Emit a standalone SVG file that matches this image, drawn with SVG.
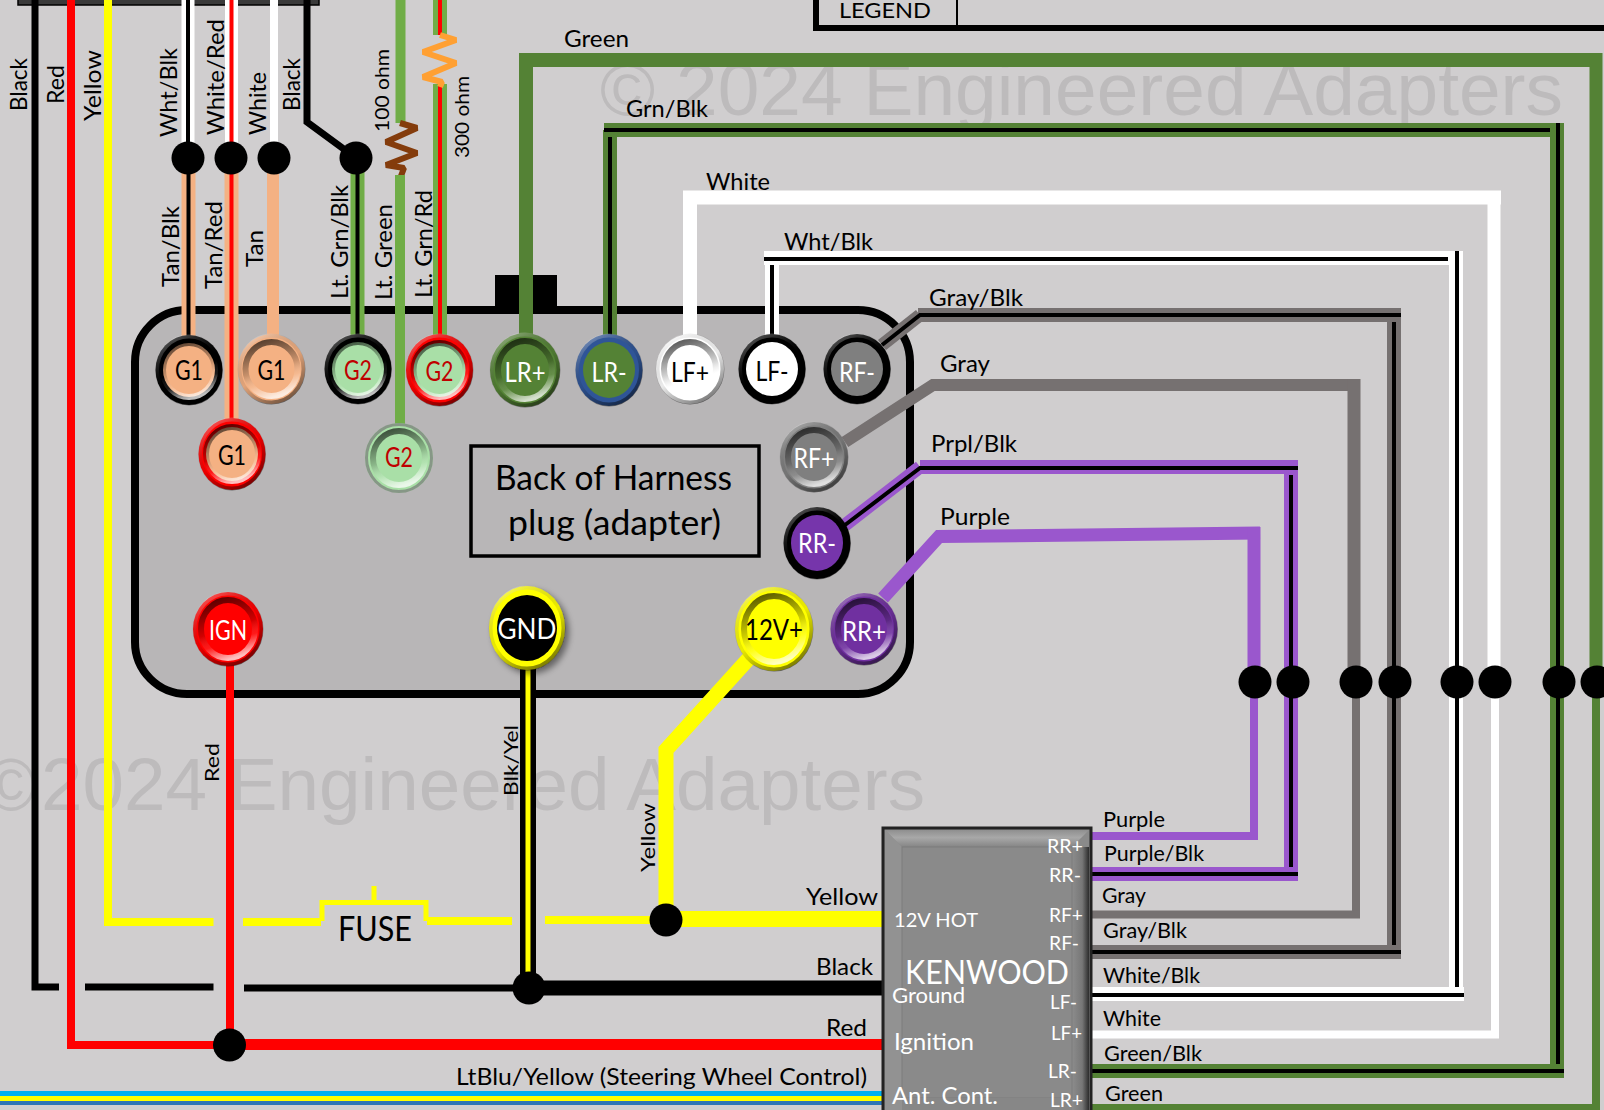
<svg xmlns="http://www.w3.org/2000/svg" width="1604" height="1110" viewBox="0 0 1604 1110">
<style>
text{font-family:"Lato","Carlito","Noto Sans",sans-serif;fill:#000}
.l{font-size:21px}
.h{font-size:23px}
.v{font-size:23px}
.vw{font-size:20px}
.ws{font-size:20px;fill:#fff}
.wm{font-family:"Liberation Sans",Arial,sans-serif;font-size:74px;fill:#bdbbbc}
.w{fill:none;stroke-linejoin:miter;stroke-linecap:butt}
.z{fill:none;stroke-linejoin:bevel;stroke-width:6}
.k{stroke:#000;stroke-width:4}
.gn{stroke:#548235}.wh{stroke:#fff}.gy{stroke:#767171}.pu{stroke:#9a57cd}.tan{stroke:#f4b183}.lg{stroke:#70ad47}.rd{stroke:#f00}.yl{stroke:#ff0}.bk{stroke:#000}
.dot{fill:#000}
.c{font-size:26px;text-anchor:middle}
.cw{fill:#fff}.cr{fill:#c00000}
.edge{fill:none;stroke:url(#edge);stroke-width:4}
.bev{fill:none;stroke:url(#bev);stroke-width:6}
</style>
<defs>
<linearGradient id="edge" x1="0.2" y1="0" x2="0.8" y2="1"><stop offset="0" stop-color="#fff" stop-opacity=".35"/><stop offset=".5" stop-color="#000" stop-opacity=".08"/><stop offset="1" stop-color="#000" stop-opacity=".55"/></linearGradient>
<linearGradient id="bev" x1="0.3" y1="0" x2="0.6" y2="1"><stop offset="0" stop-color="#000" stop-opacity=".62"/><stop offset=".5" stop-color="#000" stop-opacity=".18"/><stop offset=".72" stop-color="#fff" stop-opacity=".1"/><stop offset="1" stop-color="#fff" stop-opacity=".75"/></linearGradient>
<linearGradient id="kwR" x1="0" y1="0" x2="1" y2="0"><stop offset="0" stop-color="#8c8c8c"/><stop offset=".6" stop-color="#777"/><stop offset="1" stop-color="#2c2c2c"/></linearGradient>
<linearGradient id="kwT" x1="0" y1="0" x2="0" y2="1"><stop offset="0" stop-color="#8f8f8f"/><stop offset=".45" stop-color="#a8a8a8"/><stop offset="1" stop-color="#858585"/></linearGradient>
<filter id="sh" x="-30%" y="-30%" width="170%" height="170%"><feDropShadow dx="4" dy="4" stdDeviation="3" flood-color="#000" flood-opacity=".45"/></filter>
</defs>
<rect width="1604" height="1110" fill="#d0cecf"/>
<g id="watermarks">
<text class="wm" x="600" y="115" textLength="963" lengthAdjust="spacingAndGlyphs">© 2024 Engineered Adapters</text>
<text class="wm" x="-14" y="810" textLength="50" lengthAdjust="spacingAndGlyphs">©</text>
<text class="wm" x="41" y="810" textLength="884" lengthAdjust="spacingAndGlyphs">2024 Engineered Adapters</text>
</g>
<g id="legend">
<path d="M816 0V28H1604" fill="none" stroke="#000" stroke-width="6"/>
<path d="M957 0V26" fill="none" stroke="#000" stroke-width="2"/>
<text x="839" y="18" font-size="22" textLength="92" lengthAdjust="spacingAndGlyphs">LEGEND</text>
</g>
<g id="top-bar"><rect x="18" y="-4" width="301" height="9" fill="#3a3a3a" stroke="#000" stroke-width="1.5"/></g>
<g id="plug">
<rect x="135" y="310" width="775" height="384" rx="52" ry="52" fill="#b8b6b7" stroke="#000" stroke-width="8"/>
<rect x="495" y="275" width="62" height="31" fill="#000"/>
<rect x="471" y="446" width="288" height="110" fill="none" stroke="#000" stroke-width="3.5"/>
<text x="495" y="490" font-size="34" textLength="237" lengthAdjust="spacingAndGlyphs">Back of Harness</text>
<text x="508" y="535" font-size="34" textLength="213" lengthAdjust="spacingAndGlyphs">plug (adapter)</text>
</g>
<g id="connectors">
<path class="w bk" stroke-width="7" d="M35 0V987H59M85 987H213.500M244 988H514"/>
<path class="w rd" stroke-width="8" d="M71 0V1045H229"/>
<path class="w rd" stroke-width="11" d="M229 1044.500H883"/>
<path class="w yl" stroke-width="8" d="M108 0V922H213.500M243 922H321M427 921H512M545 920H666"/>
<path class="w yl" stroke-width="5" d="M322 921V902.500H426V921M374 902V886"/>
<path class="w" stroke="#00b0f0" stroke-width="5" d="M0 1093.500H883"/>
<path class="w yl" stroke-width="5" d="M0 1098.500H883"/>
<path class="w" stroke="#2e75b6" stroke-width="4" d="M0 1103H883"/>
<path class="w bk" stroke-width="15" d="M529 988H883"/>
<path class="w yl" stroke-width="16" d="M666 919H883"/>
<path class="w yl" stroke-width="15" d="M752 655L666 750V920"/>
<path class="w rd" stroke-width="8" d="M230 660V1044"/>
<path class="w bk" stroke-width="16" d="M528 665V975"/>
<path class="w yl" stroke-width="5" d="M528 665V972"/>

<path class="w wh" stroke-width="13" d="M188 0V150"/><path class="w k" stroke-width="3.500" d="M188 0V150"/>
<path class="w wh" stroke-width="13" d="M231.500 0V150"/><path class="w rd" stroke-width="4" d="M231.500 0V150"/>
<path class="w wh" stroke-width="8" d="M274 0V150"/>
<path class="w bk" stroke-width="7" d="M307 0V122L356 158"/>
<path class="w tan" stroke-width="14" d="M188.500 158V340"/><path class="w k" d="M188.500 158V340"/>
<path class="w tan" stroke-width="14" d="M231.500 158V425"/><path class="w rd" stroke-width="4" d="M231.500 158V425"/>
<path class="w tan" stroke-width="12" d="M273 158V340"/>
<path class="w lg" stroke-width="14" d="M357.500 158V340"/><path class="w k" d="M357.500 158V340"/>
<path class="w lg" stroke-width="10" d="M400.500 0V123"/>
<path class="z" stroke="#843c0c" d="M400 123L417 128L386 142L417 153L386 165L404 168L401 176"/>
<path class="w lg" stroke-width="10" d="M400 175V428"/>
<path class="w lg" stroke-width="14" d="M440 0V35M440 84V340"/><path class="w rd" stroke-width="4" d="M440 0V35M440 84V340"/>
<path class="z" stroke="#ffa033" d="M440 35L456 40L423 52L456 63L423 77L442 82L440 87"/>

<path class="w gn" stroke-width="14" d="M526 340V60H1596"/>
<path class="w gn" stroke-width="13" d="M1596 53V682"/>
<path class="w gn" stroke-width="8" d="M1596 682V1108H1091"/>
<path class="w gn" stroke-width="14" d="M610 340V130M604 130H1564M1557 123V1078M1564 1071H1091"/>
<path class="w k" d="M610 137V340M604 130H1550M1558 123V1064M1564 1071H1091"/>
<path class="w wh" stroke-width="14" d="M690 340V197.500H1501"/>
<path class="w wh" stroke-width="13" d="M1494 191V682"/>
<path class="w wh" stroke-width="8" d="M1495 682V1034.500H1091"/>
<path class="w wh" stroke-width="14" d="M772 340V258M764 258H1462M1456 251V1001M1464 994H1091"/>
<path class="w k" d="M772 265V340M764 259H1448M1457 251V987M1464 995H1091"/>
<path class="w gy" stroke-width="13" d="M882 345L920 315"/>
<path class="w gy" stroke-width="14" d="M918 315H1401M1394 315V959M1401 952H1091"/>
<path class="w k" d="M882 345L920 315H1401M1394 322V945M1401 952H1091"/>
<path class="w gy" stroke-width="12" d="M845 442L933 385H1360"/>
<path class="w gy" stroke-width="13" d="M1354 379V682"/>
<path class="w gy" stroke-width="8" d="M1356 682V914.500H1091"/>
<path class="w pu" stroke-width="13" d="M845 525L920 467"/>
<path class="w pu" stroke-width="14" d="M920 467H1298M1291 460V881M1298 874H1091"/>
<path class="w k" d="M845 525L920 468H1298M1291 475V867M1298 874H1091"/>
<path class="w pu" stroke-width="13" d="M883 598L939 536.500L1260 533"/>
<path class="w pu" stroke-width="13" d="M1254 527V682"/>
<path class="w pu" stroke-width="8" d="M1254 682V836H1091"/>

<ellipse class="dot" cx="188" cy="158" rx="16.500" ry="16.500"/>
<ellipse class="dot" cx="231" cy="158" rx="16.500" ry="16.500"/>
<ellipse class="dot" cx="274" cy="158" rx="16.500" ry="16.500"/>
<ellipse class="dot" cx="356" cy="158" rx="16.500" ry="16.500"/>
<ellipse class="dot" cx="229.500" cy="1045" rx="16.500" ry="16.500"/>
<ellipse class="dot" cx="529" cy="988" rx="16.500" ry="16.500"/>
<ellipse class="dot" cx="666" cy="920" rx="16.500" ry="16.500"/>
<circle class="dot" cx="1255" cy="682" r="16.500"/>
<circle class="dot" cx="1293" cy="682" r="16.500"/>
<circle class="dot" cx="1356" cy="682" r="16.500"/>
<circle class="dot" cx="1395" cy="682" r="16.500"/>
<circle class="dot" cx="1457" cy="682" r="16.500"/>
<circle class="dot" cx="1495" cy="682" r="16.500"/>
<circle class="dot" cx="1559" cy="682" r="16.500"/>
<circle class="dot" cx="1597" cy="682" r="16.500"/>
</g>

<g id="pin-g1-a" transform="translate(189 370)"><ellipse rx="33.500" ry="35" fill="#000"/><ellipse rx="26" ry="27" fill="#f4b183"/><ellipse rx="26" ry="27" class="bev"/><ellipse rx="32" ry="33.500" class="edge"/><text class="c" y="10" textLength="28" lengthAdjust="spacingAndGlyphs">G1</text></g>
<g id="pin-g1-b" transform="translate(271.500 369)"><ellipse rx="33.500" ry="35" fill="#f4b183"/><ellipse rx="26" ry="27" fill="#f4b183"/><ellipse rx="26" ry="27" class="bev"/><ellipse rx="32" ry="33.500" class="edge"/><text class="c" y="11" textLength="28" lengthAdjust="spacingAndGlyphs">G1</text></g>
<g id="pin-g1-c" transform="translate(232 454)"><ellipse rx="33.500" ry="36" fill="#f00"/><ellipse rx="26" ry="27" fill="#f4b183"/><ellipse rx="26" ry="27" class="bev"/><ellipse rx="32" ry="34.500" class="edge"/><text class="c" y="11" textLength="28" lengthAdjust="spacingAndGlyphs">G1</text></g>
<g id="pin-g2-a" transform="translate(358 369)"><ellipse rx="33.500" ry="35" fill="#000"/><ellipse rx="26" ry="27" fill="#a9dfa7"/><ellipse rx="26" ry="27" class="bev"/><ellipse rx="32" ry="33.500" class="edge"/><text class="c cr" y="11" textLength="28" lengthAdjust="spacingAndGlyphs">G2</text></g>
<g id="pin-g2-b" transform="translate(439.500 370)"><ellipse rx="33.500" ry="36" fill="#f00"/><ellipse rx="26" ry="27" fill="#a9dfa7"/><ellipse rx="26" ry="27" class="bev"/><ellipse rx="32" ry="34.500" class="edge"/><text class="c cr" y="11" textLength="28" lengthAdjust="spacingAndGlyphs">G2</text></g>
<g id="pin-g2-c" transform="translate(399 458)"><ellipse rx="34" ry="35" fill="#a9dfa7"/><ellipse rx="26" ry="27" fill="#a9dfa7"/><ellipse rx="26" ry="27" class="bev"/><ellipse rx="32.500" ry="33.500" fill="none" stroke="#777" stroke-width="3" stroke-opacity=".7"/><text class="c cr" y="9" textLength="28" lengthAdjust="spacingAndGlyphs">G2</text></g>
<g id="pin-lr-plus" transform="translate(525 370)"><ellipse rx="35" ry="37" fill="#548235"/><ellipse rx="27" ry="29" fill="#548235"/><ellipse rx="27" ry="29" class="bev"/><ellipse rx="33.500" ry="35.500" class="edge"/><text class="c cw" y="12" textLength="41" lengthAdjust="spacingAndGlyphs">LR+</text></g>
<g id="pin-lr-minus" transform="translate(609 370)"><ellipse rx="33.500" ry="36" fill="#2f5597"/><ellipse rx="26" ry="28" fill="#548235"/><ellipse rx="32" ry="34.500" class="edge"/><text class="c cw" y="12" textLength="35" lengthAdjust="spacingAndGlyphs">LR-</text></g>
<g id="pin-lf-plus" transform="translate(690 369)"><ellipse rx="34" ry="35" fill="#fff"/><ellipse rx="26" ry="27" fill="#fff"/><ellipse rx="26" ry="27" class="bev"/><ellipse rx="32.500" ry="33.500" class="edge"/><text class="c" y="13" textLength="38" lengthAdjust="spacingAndGlyphs">LF+</text></g>
<g id="pin-lf-minus" transform="translate(772 369)"><ellipse rx="33.500" ry="35" fill="#000"/><ellipse rx="26" ry="27" fill="#fff"/><ellipse rx="32" ry="33.500" class="edge"/><text class="c" y="12" textLength="33" lengthAdjust="spacingAndGlyphs">LF-</text></g>
<g id="pin-rf-minus" transform="translate(857 369)"><ellipse rx="33.500" ry="35" fill="#000"/><ellipse rx="26" ry="27" fill="#7f7f7f"/><ellipse rx="32" ry="33.500" class="edge"/><text class="c cw" y="13" textLength="36" lengthAdjust="spacingAndGlyphs">RF-</text></g>
<g id="pin-rf-plus" transform="translate(814 457)"><ellipse rx="34" ry="35" fill="#7f7f7f"/><ellipse rx="26" ry="27" fill="#7f7f7f"/><ellipse rx="26" ry="27" class="bev"/><ellipse rx="32.500" ry="33.500" class="edge"/><text class="c cw" y="11" textLength="41" lengthAdjust="spacingAndGlyphs">RF+</text></g>
<g id="pin-rr-minus" transform="translate(817 543)"><ellipse rx="33.500" ry="36" fill="#000"/><ellipse rx="26" ry="28" fill="#7635ab"/><ellipse rx="32" ry="34.500" class="edge"/><text class="c cw" y="10" textLength="38" lengthAdjust="spacingAndGlyphs">RR-</text></g>
<g id="pin-rr-plus" transform="translate(864 629)"><ellipse rx="33.500" ry="36" fill="#7030a0"/><ellipse rx="26" ry="28" fill="#7030a0"/><ellipse rx="26" ry="28" class="bev"/><ellipse rx="32" ry="34.500" class="edge"/><text class="c cw" y="12" textLength="44" lengthAdjust="spacingAndGlyphs">RR+</text></g>
<g id="pin-12v" transform="translate(774 629)"><ellipse rx="39" ry="42" fill="#ff0"/><ellipse rx="30" ry="33" fill="#ff0"/><ellipse rx="30" ry="33" class="bev"/><ellipse rx="37.500" ry="40.500" class="edge"/><text class="c" y="11" style="font-size:29px" textLength="58" lengthAdjust="spacingAndGlyphs">12V+</text></g>
<g id="pin-gnd" transform="translate(527 628)"><ellipse rx="38" ry="42" fill="#ff0" filter="url(#sh)"/><ellipse rx="30" ry="33" fill="#000"/><ellipse rx="36.500" ry="40.500" class="edge"/><text class="c cw" y="11" style="font-size:29px" textLength="59" lengthAdjust="spacingAndGlyphs">GND</text></g>
<g id="pin-ign" transform="translate(228 629)"><ellipse rx="35" ry="37" fill="#f00"/><ellipse rx="27" ry="29" fill="#f00"/><ellipse rx="27" ry="29" class="bev"/><ellipse rx="33.500" ry="35.500" class="edge"/><text class="c cw" y="11" textLength="38" lengthAdjust="spacingAndGlyphs">IGN</text></g>

<g id="kenwood">
<rect x="883" y="828" width="208" height="290" fill="#8a8a8a" stroke="#222" stroke-width="3"/>
<path d="M885 830H1089L1072 847H902Z" fill="url(#kwT)"/>
<path d="M1072 847H1089V1112H1072Z" fill="url(#kwR)"/>
<path d="M885 830L902 847V1110H885Z" fill="#929292"/>
<rect x="902" y="847" width="170" height="251" fill="#8a8a8a" stroke="#7c7c7c" stroke-width="1"/>
<rect x="902" y="1098" width="170" height="12" fill="#878787"/>
<text class="ws" x="1083" y="853" text-anchor="end" textLength="36" lengthAdjust="spacingAndGlyphs">RR+</text>
<text class="ws" x="1081" y="882" text-anchor="end" textLength="32" lengthAdjust="spacingAndGlyphs">RR-</text>
<text class="ws" x="1083" y="922" text-anchor="end" textLength="34" lengthAdjust="spacingAndGlyphs">RF+</text>
<text class="ws" x="1079" y="950" text-anchor="end" textLength="30" lengthAdjust="spacingAndGlyphs">RF-</text>
<text class="ws" x="1077" y="1009" text-anchor="end" textLength="27" lengthAdjust="spacingAndGlyphs">LF-</text>
<text class="ws" x="1082" y="1040" text-anchor="end" textLength="31" lengthAdjust="spacingAndGlyphs">LF+</text>
<text class="ws" x="1077" y="1078" text-anchor="end" textLength="29" lengthAdjust="spacingAndGlyphs">LR-</text>
<text class="ws" x="1083" y="1107" text-anchor="end" textLength="33" lengthAdjust="spacingAndGlyphs">LR+</text>
<text class="ws" x="894" y="927" textLength="84" lengthAdjust="spacingAndGlyphs">12V HOT</text>
<text class="ws" x="905" y="984" style="font-size:33px" textLength="164" lengthAdjust="spacingAndGlyphs">KENWOOD</text>
<text class="ws" x="892" y="1003" style="font-size:21px" textLength="73" lengthAdjust="spacingAndGlyphs">Ground</text>
<text class="ws" x="894" y="1050" style="font-size:23px" textLength="80" lengthAdjust="spacingAndGlyphs">Ignition</text>
<text class="ws" x="892" y="1104" style="font-size:23px" textLength="106" lengthAdjust="spacingAndGlyphs">Ant. Cont.</text>
</g>

<g id="labels">
<text class="l" x="1103" y="827" textLength="62" lengthAdjust="spacingAndGlyphs">Purple</text>
<text class="l" x="1104" y="861" textLength="100" lengthAdjust="spacingAndGlyphs">Purple/Blk</text>
<text class="l" x="1102" y="903" textLength="44" lengthAdjust="spacingAndGlyphs">Gray</text>
<text class="l" x="1103" y="938" textLength="84" lengthAdjust="spacingAndGlyphs">Gray/Blk</text>
<text class="l" x="1103" y="983" textLength="97" lengthAdjust="spacingAndGlyphs">White/Blk</text>
<text class="l" x="1103" y="1026" textLength="58" lengthAdjust="spacingAndGlyphs">White</text>
<text class="l" x="1104" y="1061" textLength="98" lengthAdjust="spacingAndGlyphs">Green/Blk</text>
<text class="l" x="1105" y="1101" textLength="58" lengthAdjust="spacingAndGlyphs">Green</text>
<text class="h" x="806" y="905" textLength="72" lengthAdjust="spacingAndGlyphs">Yellow</text>
<text class="h" x="816" y="975" textLength="57" lengthAdjust="spacingAndGlyphs">Black</text>
<text class="h" x="826" y="1036" textLength="41" lengthAdjust="spacingAndGlyphs">Red</text>
<text class="h" x="456" y="1085" textLength="411" lengthAdjust="spacingAndGlyphs">LtBlu/Yellow (Steering Wheel Control)</text>
<text x="338" y="941" font-size="35" textLength="74" lengthAdjust="spacingAndGlyphs">FUSE</text>
<text class="h" x="564" y="47" textLength="65" lengthAdjust="spacingAndGlyphs">Green</text>
<text class="h" x="626" y="117" textLength="82" lengthAdjust="spacingAndGlyphs">Grn/Blk</text>
<text class="h" x="706" y="190" textLength="64" lengthAdjust="spacingAndGlyphs">White</text>
<text class="h" x="784" y="250" textLength="89" lengthAdjust="spacingAndGlyphs">Wht/Blk</text>
<text class="h" x="929" y="306" textLength="94" lengthAdjust="spacingAndGlyphs">Gray/Blk</text>
<text class="h" x="940" y="372" textLength="50" lengthAdjust="spacingAndGlyphs">Gray</text>
<text class="h" x="931" y="452" textLength="86" lengthAdjust="spacingAndGlyphs">Prpl/Blk</text>
<text class="h" x="940" y="525" textLength="70" lengthAdjust="spacingAndGlyphs">Purple</text>
<text class="v" transform="translate(27 111) rotate(-90)" textLength="53" lengthAdjust="spacingAndGlyphs">Black</text>
<text class="v" transform="translate(64 104) rotate(-90)" textLength="39" lengthAdjust="spacingAndGlyphs">Red</text>
<text class="v" transform="translate(101 121) rotate(-90)" textLength="71" lengthAdjust="spacingAndGlyphs">Yellow</text>
<text class="v" transform="translate(177 137) rotate(-90)" textLength="89" lengthAdjust="spacingAndGlyphs">Wht/Blk</text>
<text class="v" transform="translate(224 135) rotate(-90)" textLength="116" lengthAdjust="spacingAndGlyphs">White/Red</text>
<text class="v" transform="translate(266 135) rotate(-90)" textLength="63" lengthAdjust="spacingAndGlyphs">White</text>
<text class="v" transform="translate(300 111) rotate(-90)" textLength="53" lengthAdjust="spacingAndGlyphs">Black</text>
<text class="v" transform="translate(178.500 287) rotate(-90)" textLength="81" lengthAdjust="spacingAndGlyphs">Tan/Blk</text>
<text class="v" transform="translate(222 289) rotate(-90)" textLength="88" lengthAdjust="spacingAndGlyphs">Tan/Red</text>
<text class="v" transform="translate(263 267) rotate(-90)" textLength="37" lengthAdjust="spacingAndGlyphs">Tan</text>
<text class="v" transform="translate(347.500 299) rotate(-90)" textLength="114" lengthAdjust="spacingAndGlyphs">Lt. Grn/Blk</text>
<text class="v" transform="translate(392 300) rotate(-90)" textLength="96" lengthAdjust="spacingAndGlyphs">Lt. Green</text>
<text class="v" transform="translate(432 298) rotate(-90)" textLength="108" lengthAdjust="spacingAndGlyphs">Lt. Grn/Rd</text>
<text class="vw" transform="translate(388.500 132) rotate(-90)" textLength="83" lengthAdjust="spacingAndGlyphs">100 ohm</text>
<text class="vw" transform="translate(469 158) rotate(-90)" textLength="82" lengthAdjust="spacingAndGlyphs">300 ohm</text>
<text class="vw" transform="translate(219 782) rotate(-90)" textLength="39" lengthAdjust="spacingAndGlyphs">Red</text>
<text class="vw" transform="translate(517.500 796) rotate(-90)" textLength="71" lengthAdjust="spacingAndGlyphs">Blk/Yel</text>
<text class="vw" transform="translate(655 872) rotate(-90)" textLength="69" lengthAdjust="spacingAndGlyphs">Yellow</text>
</g>
</svg>
